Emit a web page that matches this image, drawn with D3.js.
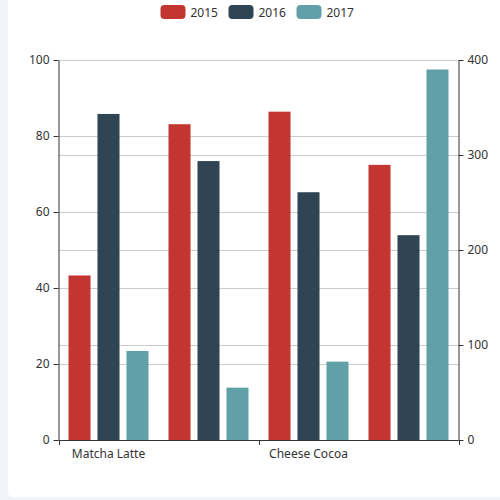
<!DOCTYPE html>
<html>
<head>
<meta charset="utf-8">
<script src="https://cdn.jsdelivr.net/npm/d3@7"></script>
<style>
html,body{margin:0;padding:0;background:#f3f4f9;}
svg{display:block;}
text{font-family:"Noto Sans",sans-serif;}
</style>
</head>
<body>
<svg id="chart" width="500" height="500"></svg>
<script>
const categories = ["Matcha Latte", "Milk Tea", "Cheese Cocoa", "Walnut Brownie"];
const seriesNames = ["2015", "2016", "2017"];
const values2015 = [43.3, 83.1, 86.4, 72.4];
const values2016 = [85.8, 73.4, 65.2, 53.9];
const values2017 = [93.7, 55.1, 82.5, 390];
const leftTicks = [0, 20, 40, 60, 80, 100];
const rightTicks = [0, 100, 200, 300, 400];
const colors = ["#c23531", "#2f4554", "#61a0a8"];
const seriesValues = [values2015, values2016, values2017];
const seriesAxis = ["left", "left", "right"];

const svg = d3.select("#chart");
svg.append("rect").attr("x", 0).attr("y", 0).attr("width", 500).attr("height", 500).attr("fill", "#f3f4f9");
svg.append("rect").attr("x", 8).attr("y", -10).attr("width", 510).attr("height", 507).attr("rx", 5).attr("fill", "#ffffff");

const L = 58.5, R = 458.5, T = 60, B = 440;
const x = d3.scaleBand().domain(categories).range([L, R]).padding(0);
const inner = d3.scaleBand().domain(seriesNames).range([10, 90]).paddingInner(0.24);
const yL = d3.scaleLinear().domain([0, 100]).range([B, T]);
const yR = d3.scaleLinear().domain([0, 400]).range([B, T]);

// grid lines
const grid = svg.append("g");
leftTicks.filter(d => d > 0).forEach(d => {
  grid.append("line").attr("x1", L).attr("x2", R).attr("y1", Math.round(yL(d)) + 0.5).attr("y2", Math.round(yL(d)) + 0.5)
    .attr("stroke", "#cccccc").attr("stroke-width", 1);
});
rightTicks.filter(d => d > 0 && d < 400).forEach(d => {
  grid.append("line").attr("x1", L).attr("x2", R).attr("y1", Math.round(yR(d)) + 0.5).attr("y2", Math.round(yR(d)) + 0.5)
    .attr("stroke", "#cccccc").attr("stroke-width", 1);
});

// bars
seriesNames.forEach((s, si) => {
  const yS = seriesAxis[si] === "left" ? yL : yR;
  svg.append("g").selectAll("rect").data(categories).join("rect")
    .attr("x", (c) => x(c) + inner(s))
    .attr("width", inner.bandwidth())
    .attr("y", (c, i) => yS(seriesValues[si][i]))
    .attr("height", (c, i) => B - yS(seriesValues[si][i]))
    .attr("fill", colors[si]);
});

// axes
const axisStyle = g => {
  g.select(".domain").attr("stroke", "#333").attr("stroke-width", 1);
  g.selectAll(".tick line").attr("stroke", "#333");
  g.selectAll(".tick text").attr("fill", "#333").style("font-size", "12px").style("font-family", '"Noto Sans", sans-serif');
};
const leftAxis = svg.append("g").attr("transform", `translate(${L},0)`)
  .call(d3.axisLeft(yL).tickValues(leftTicks).tickSizeInner(5).tickSizeOuter(0).tickPadding(4));
axisStyle(leftAxis);
const rightAxis = svg.append("g").attr("transform", `translate(${R},0)`)
  .call(d3.axisRight(yR).tickValues(rightTicks).tickSizeInner(5).tickSizeOuter(0).tickPadding(4));
axisStyle(rightAxis);

// x axis
const xg = svg.append("g").attr("transform", `translate(0,${B})`);
xg.append("line").attr("x1", L).attr("x2", R).attr("y1", 0.5).attr("y2", 0.5).attr("stroke", "#333");
const tickIdx = [0, 2, 4];
tickIdx.forEach(i => {
  const tx = Math.round(L + i * x.step()) + 0.5;
  xg.append("line").attr("x1", tx).attr("x2", tx).attr("y1", 0).attr("y2", 5).attr("stroke", "#333");
});
xg.selectAll("text").data(categories.filter((c, i) => i % 2 === 0)).join("text")
  .attr("x", c => x(c) + x.bandwidth() / 2)
  .attr("y", 18)
  .attr("text-anchor", "middle")
  .attr("fill", "#333")
  .style("font-size", "12px")
  .text(c => c);

// legend
const legend = svg.append("g");
const legendX = [160.5, 228.5, 296.5];
seriesNames.forEach((s, i) => {
  legend.append("rect").attr("x", legendX[i]).attr("y", 5).attr("width", 25).attr("height", 14).attr("rx", 4).attr("fill", colors[i]);
  legend.append("text").attr("x", legendX[i] + 30).attr("y", 16.5).attr("fill", "#333").style("font-size", "12px").text(s);
});
</script>
</body>
</html>
